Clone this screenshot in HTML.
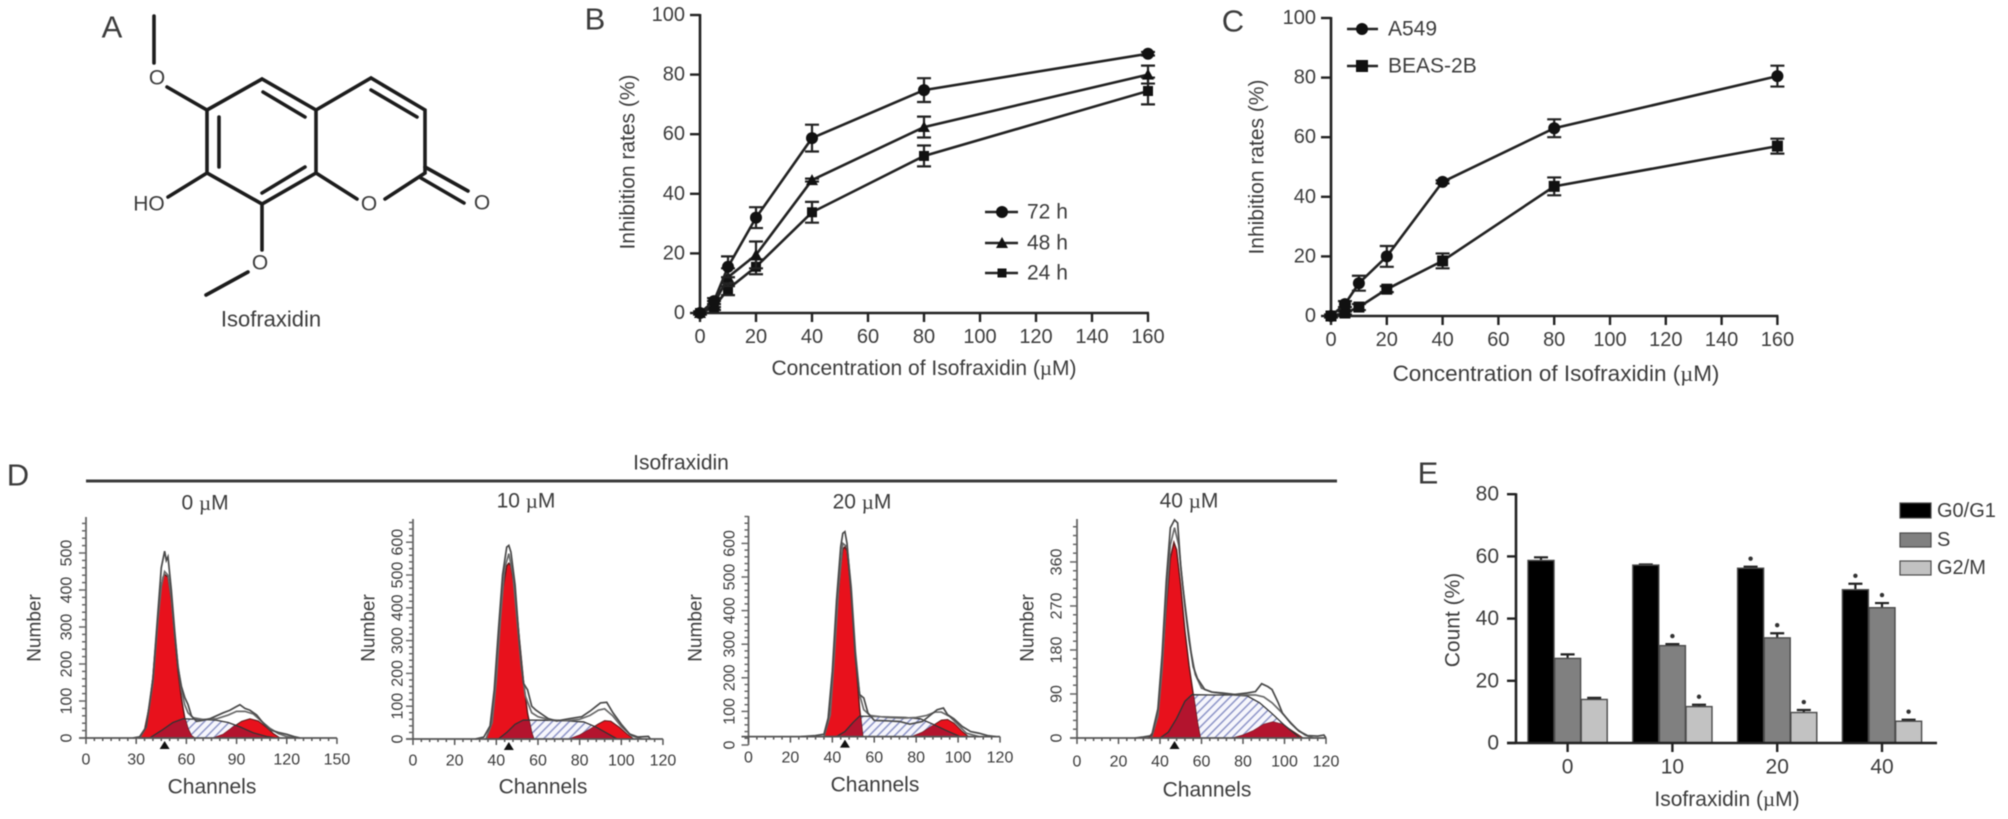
<!DOCTYPE html>
<html lang="en">
<head>
<meta charset="utf-8">
<title>Isofraxidin figure</title>
<style>
html,body{margin:0;padding:0;background:#fff;}
svg{display:block;filter:blur(0.55px);}
text{font-family:"Liberation Sans",sans-serif;fill:#3c3c3c;dominant-baseline:central;}
.mu{font-family:"Liberation Serif",serif;}
.bond{stroke:#1c1c1c;stroke-width:3.6;stroke-linecap:round;fill:none;}
</style>
</head>
<body>
<svg id="fig" xmlns="http://www.w3.org/2000/svg" width="2008" height="819" viewBox="0 0 2008 819">
<defs>
<pattern id="hatch" patternUnits="userSpaceOnUse" width="6" height="6" patternTransform="rotate(45)">
<rect width="6" height="6" fill="#f6f6fc"/>
<rect x="0" y="0" width="1.5" height="6" fill="#8f96c8"/>
</pattern>
</defs>
<rect width="2008" height="819" fill="#fff"/>

<text x="112" y="27" font-size="31" text-anchor="middle">A</text>
<text x="595" y="19" font-size="31" text-anchor="middle">B</text>
<text x="1233" y="21" font-size="31" text-anchor="middle">C</text>
<text x="18" y="475" font-size="31" text-anchor="middle">D</text>
<text x="1428" y="473" font-size="31" text-anchor="middle">E</text>

<g>
<g class="bond">
<path d="M154 16V63M167 87L207 110L262 79L316 110L316 173L262 204L207 173L207 110M316 110L371 78L425 110L425 173L385 199M316 173L357 199M207 173L168 197M262 204V250M248 272L206 295"/>
<path d="M219 117V167M263 92L305 117M262 193L305 167M371 90L417 117"/>
<path d="M425 167L468 191M421 178L464 203"/>
</g>
<text x="157" y="78" font-size="21" text-anchor="middle">O</text>
<text x="149" y="204" font-size="21" text-anchor="middle">HO</text>
<text x="369" y="204" font-size="21" text-anchor="middle">O</text>
<text x="482" y="203" font-size="21" text-anchor="middle">O</text>
<text x="260" y="263" font-size="21" text-anchor="middle">O</text>
<text x="271" y="319" font-size="22" text-anchor="middle">Isofraxidin</text>
</g>

<text x="681" y="463" font-size="21" text-anchor="middle">Isofraxidin</text>
<line x1="86" y1="481" x2="1337" y2="481" stroke="#3c3c3c" stroke-width="3"/>
<text x="205" y="503" font-size="21" text-anchor="middle">0 <tspan class="mu">µ</tspan>M</text>
<text x="526" y="501" font-size="21" text-anchor="middle">10 <tspan class="mu">µ</tspan>M</text>
<text x="862" y="502" font-size="21" text-anchor="middle">20 <tspan class="mu">µ</tspan>M</text>
<text x="1189" y="501" font-size="21" text-anchor="middle">40 <tspan class="mu">µ</tspan>M</text>
</svg>

<script>
// Panel B data
const concentrations = [0, 5, 10, 20, 40, 80, 160];
const rate72h = [0, 4, 15.5, 32, 58.7, 74.8, 87];
const err72h = [0.5, 1, 3.5, 3.5, 4.5, 4, 0.6];
const rate48h = [0, 3, 12, 19.5, 44.6, 62.4, 80];
const err48h = [0.5, 1, 3, 4.5, 0.5, 3.5, 3];
const rate24h = [0, 2, 8, 15.5, 33.8, 52.7, 74.5];
const err24h = [0.5, 1, 2, 2.5, 3.5, 3.5, 4.5];
// Panel C data
const rateA549 = [0, 4, 11, 20, 45, 63, 80.5];
const errA549 = [0.5, 1, 2.5, 3.5, 0.5, 3, 3.5];
const rateBeas = [0, 1, 3, 9, 18.5, 43.5, 57];
const errBeas = [0.5, 0.5, 1, 1, 2.5, 3, 2.5];
const lineXTicks = [0, 20, 40, 60, 80, 100, 120, 140, 160];
const lineYTicks = [0, 20, 40, 60, 80, 100];

// Panel D data: [channel, count] readings
const g1Dose0 = [[32,0],[35,22],[38,90],[40,165],[42,275],[44,385],[46,435],[47,442],[49,435],[51,375],[53,275],[55,180],[57,108],[59,55],[61,24],[63,6],[65,0]];
const sDose0 = [[38,0],[45,20],[52,42],[58,52],[70,50],[78,48],[85,42],[92,30],[100,14],[108,4],[114,0]];
const g2Dose0 = [[76,0],[82,10],[88,30],[93,45],[98,52],[103,46],[108,28],[112,12],[116,0]];
const traceDose0 = [[28,0],[32,3],[36,30],[40,160],[43,340],[45,460],[47,505],[48,480],[49,490],[51,400],[53,290],[55,190],[57,140],[59,110],[61,90],[63,60],[66,45],[70,48],[74,52],[78,60],[82,68],[86,75],[90,85],[92,90],[95,80],[98,75],[102,62],[106,40],[110,22],[115,15],[120,10],[125,3],[128,0]];
const fitDose0 = [[32,0],[36,30],[40,150],[43,320],[45,410],[47,450],[49,440],[51,380],[53,280],[55,195],[57,130],[59,90],[61,68],[64,55],[70,50],[78,52],[85,62],[90,72],[95,72],[100,65],[105,45],[110,26],[115,12],[120,4],[125,0]];

const g1Dose10 = [[35,0],[37,35],[39,140],[41,310],[43,450],[45,528],[46,536],[47,528],[49,450],[51,310],[53,180],[55,78],[57,18],[58,0]];
const sDose10 = [[41,0],[45,20],[49,45],[53,58],[65,57],[75,55],[82,52],[88,36],[93,18],[98,0]];
const g2Dose10 = [[75,0],[80,12],[85,30],[89,46],[92,56],[95,54],[99,36],[103,14],[106,0]];
const traceDose10 = [[30,0],[34,6],[37,40],[39,150],[41,330],[43,500],[45,585],[46,590],[47,570],[49,470],[51,300],[53,170],[55,150],[57,100],[59,88],[62,75],[65,62],[69,55],[75,62],[81,68],[85,85],[88,100],[90,110],[93,112],[96,80],[100,45],[104,15],[108,6],[113,8],[114,0]];
const fitDose10 = [[35,0],[38,50],[40,180],[42,370],[44,520],[46,565],[48,500],[50,360],[52,220],[54,130],[57,80],[60,68],[66,58],[74,56],[80,60],[85,72],[89,88],[92,92],[96,70],[100,38],[105,10],[110,0]];

const g1Dose20 = [[36,25],[38,65],[40,185],[42,385],[44,535],[45,582],[46,590],[47,578],[49,460],[51,265],[53,110],[54.5,25]];
const sDose20 = [[42,25],[46,40],[50,68],[53,86],[65,84],[75,82],[82,78],[88,62],[94,44],[101,25]];
const g2Dose20 = [[78,25],[83,38],[88,58],[92,74],[95,76],[98,65],[102,40],[105,25]];
const traceDose20 = [[25,25],[32,28],[36,32],[38,80],[40,220],[42,430],[44,590],[45,630],[46,635],[47,600],[49,450],[51,260],[53,150],[55,140],[57,95],[60,73],[66,72],[72,70],[77,62],[83,70],[87,90],[90,105],[93,110],[95,90],[98,78],[102,55],[106,40],[110,35],[114,28],[118,25]];
const fitDose20 = [[36,25],[39,90],[41,270],[43,470],[45,600],[47,590],[49,470],[51,280],[53,150],[55,105],[58,88],[66,82],[74,80],[80,82],[85,88],[89,98],[92,98],[96,85],[100,60],[104,35],[110,25]];

const g1Dose40 = [[34.4,0],[37,14],[39,58],[41,145],[43,265],[45,368],[46.7,400],[48,385],[50,310],[52,220],[54,148],[56,90],[58,32],[59.4,0]];
const sDose40 = [[40,0],[44,12],[48,40],[52,75],[55.4,88.6],[65,88],[75,88],[82,86],[88,72],[94,50],[100,26],[107.5,0]];
const g2Dose40 = [[75,0],[80,6],[85,15],[90,28],[94.5,33],[99,28],[104,14],[109,0]];
const traceDose40 = [[28,0],[32,2],[36,5],[39,60],[41,170],[43,320],[45,430],[47,446],[48.5,440],[50,350],[52,270],[54,200],[56,146],[58,122],[61.6,99],[65,94],[70,92],[76,89],[82,92],[86,95],[89,111],[92,105],[94,99],[97,72],[99,51],[103,30],[107,14],[111,5],[116,4],[119,6],[120,0]];
const fitDose40 = [[36,2],[39,45],[41,140],[43,280],[45,395],[47,430],[49,395],[51,310],[53,240],[55,175],[57,130],[60,102],[65,94],[72,90],[80,88],[86,88],[90,84],[94,72],[98,55],[102,36],[106,18],[110,6],[114,0]];

const channelTicks0 = [0, 30, 60, 90, 120, 150];
const channelTicks = [0, 20, 40, 60, 80, 100, 120];
const numberTicksA = [0, 100, 200, 300, 400, 500];
const numberTicksB = [0, 100, 200, 300, 400, 500, 600];
const numberTicksC = [0, 90, 180, 270, 360];

// Panel E data
const doses = ['0', '10', '20', '40'];
const phaseG0 = [58.7, 57.2, 56.2, 49.3];
const phaseS = [27.2, 31.3, 33.8, 43.5];
const phaseG2 = [14, 11.7, 9.8, 7];
const errG0 = [1, 0.2, 0.5, 1.9];
const errS = [1.3, 0.5, 1.5, 1.5];
const errG2 = [0.5, 0.6, 0.8, 0.5];
const sigG0 = [0, 0, 1, 1];
const sigS = [0, 1, 1, 1];
const sigG2 = [0, 1, 1, 1];
const countTicks = [0, 20, 40, 60, 80];

const svg = document.getElementById('fig');
const NS = 'http://www.w3.org/2000/svg';
function mk(tag, attrs, parent) {
  const e = document.createElementNS(NS, tag);
  for (const k in attrs) e.setAttribute(k, attrs[k]);
  (parent || svg).appendChild(e);
  return e;
}
function txt(str, x, y, size, anchor, parent, rot) {
  const t = mk('text', {x: x, y: y, 'font-size': size, 'text-anchor': anchor || 'middle'}, parent);
  t.textContent = str;
  if (rot) t.setAttribute('transform', 'rotate(-90 ' + x + ' ' + y + ')');
  return t;
}
const INK = '#222';

function marker(kind, cx, cy, r, parent) {
  let m;
  if (kind === 'circle') m = mk('circle', {cx: cx, cy: cy, r: r, fill: '#111'}, parent);
  else if (kind === 'square') m = mk('rect', {x: cx - r, y: cy - r, width: 2 * r, height: 2 * r, fill: '#111'}, parent);
  else m = mk('polygon', {points: (cx) + ',' + (cy - r - 1) + ' ' + (cx + r + 1) + ',' + (cy + r) + ' ' + (cx - r - 1) + ',' + (cy + r), fill: '#111'}, parent);
  return m;
}

function linePanel(name, box, seriesList) {
  const g = mk('g', {}, svg);
  
  
  const X = v => box.x0 + v * box.kx;
  const Y = v => box.y0 - v * box.ky;
  const yAxis = mk('line', {x1: X(0), x2: X(0), y1: Y(100) - 1, y2: Y(0) + 1, stroke: INK, 'stroke-width': 2.6}, g);
  
  
  const xAxis = mk('line', {x1: X(0) - 1, x2: X(160) + 1, y1: Y(0), y2: Y(0), stroke: INK, 'stroke-width': 2.6}, g);
  
  
  lineYTicks.forEach(v => {
    const tk = mk('line', {x1: X(0) - 10, x2: X(0), y1: Y(v), y2: Y(v), stroke: INK, 'stroke-width': 2.4}, g);
    
    
    const lb = txt(String(v), X(0) - 15, Y(v), 20, 'end', g);
    
    
  });
  lineXTicks.forEach(v => {
    const tk = mk('line', {x1: X(v), x2: X(v), y1: Y(0), y2: Y(0) + 9, stroke: INK, 'stroke-width': 2.4}, g);
    
    
    const lb = txt(String(v), X(v), Y(0) + 24, 20, 'middle', g);
    
    
  });
  seriesList.forEach(s => {
    const path = mk('polyline', {points: s.values.map((v, i) => X(concentrations[i]) + ',' + Y(v)).join(' '), fill: 'none', stroke: INK, 'stroke-width': 2.6}, g);
    
    
    s.values.forEach((v, i) => {
      const c = X(concentrations[i]);
      const e = s.errs[i];
      const bar = mk('path', {d: 'M' + c + ' ' + Y(v + e) + 'V' + Y(v - e) + 'M' + (c - 7) + ' ' + Y(v + e) + 'H' + (c + 7) + 'M' + (c - 7) + ' ' + Y(v - e) + 'H' + (c + 7), stroke: INK, 'stroke-width': 2.2, fill: 'none'}, g);
      
      
      const pt = marker(s.kind, c, Y(v), s.r, g);
      
      
    });
  });
}

linePanel('chart-b', {x0: 700, y0: 313, kx: 2.8, ky: 2.98}, [
  {id: '24h', kind: 'square', r: 5, values: rate24h, errs: err24h},
  {id: '48h', kind: 'triangle', r: 5, values: rate48h, errs: err48h},
  {id: '72h', kind: 'circle', r: 6, values: rate72h, errs: err72h}
]);
linePanel('chart-c', {x0: 1331, y0: 316, kx: 2.79, ky: 2.98}, [
  {id: 'beas-2b', kind: 'square', r: 5.5, values: rateBeas, errs: errBeas},
  {id: 'a549', kind: 'circle', r: 6, values: rateA549, errs: errA549}
]);

function axisTitles(name, yStr, yx, yy, xStr, xx, xy, xSize) {
  const a = txt(yStr, yx, yy, 21, 'middle', svg, true);
  
  
  const b = txt('', xx, xy, xSize || 21, 'middle', svg);
  
  
  const p1 = mk('tspan', {}, b); p1.textContent = xStr;
  const p2 = mk('tspan', {class: 'mu'}, b); p2.textContent = 'µ';
  const p3 = mk('tspan', {}, b); p3.textContent = 'M)';
}
axisTitles('chart-b', 'Inhibition rates (%)', 628, 162, 'Concentration of Isofraxidin (', 924, 368);
axisTitles('chart-c', 'Inhibition rates (%)', 1257, 167, 'Concentration of Isofraxidin (', 1556, 373, 22.5);

function legendRow(name, kind, r, x1, x2, cx, y, tx, label, size) {
  const g = mk('g', {}, svg);
  
  
  mk('line', {x1: x1, x2: x2, y1: y, y2: y, stroke: INK, 'stroke-width': 2.6}, g);
  marker(kind, cx, y, r, g);
  txt(label, tx, y, size, 'start', g);
}
legendRow('legend-entry-72h', 'circle', 6, 985, 1018, 1002, 212, 1027, '72 h', 21);
legendRow('legend-entry-48h', 'triangle', 5, 985, 1018, 1002, 243, 1027, '48 h', 21);
legendRow('legend-entry-24h', 'square', 4.5, 985, 1018, 1002, 273, 1027, '24 h', 21);
legendRow('legend-entry-a549', 'circle', 6, 1347, 1378, 1362, 29, 1388, 'A549', 21);
legendRow('legend-entry-beas-2b', 'square', 6, 1347, 1378, 1362, 66, 1388, 'BEAS-2B', 21);

function flowPanel(p) {
  const g = mk('g', {}, svg);
  
  
  const X = c => p.x0 + c * p.kx;
  const Y = v => p.y0 - v * p.ky;
  const base = p.base || 0;
  const pts = arr => arr.map(q => X(q[0]) + ',' + Y(q[1])).join(' ');
  const area = arr => X(arr[0][0]) + ',' + Y(base) + ' ' + pts(arr) + ' ' + X(arr[arr.length - 1][0]) + ',' + Y(base);
  const hatch = mk('polygon', {points: area(p.s), fill: 'url(#hatch)'}, g);
  
  
  const g1 = mk('polygon', {points: area(p.g1), fill: '#e8111c', stroke: '#5a1a1a', 'stroke-width': 1.4}, g);
  
  
  const g2 = mk('polygon', {points: area(p.g2), fill: '#e8111c', stroke: '#5a1a1a', 'stroke-width': 1}, g);
  
  
  const clip = mk('clipPath', {id: p.name + '-clip'}, g);
  mk('polygon', {points: area(p.s)}, clip);
  const o1 = mk('polygon', {points: area(p.g1), fill: '#b3142e', 'clip-path': 'url(#' + p.name + '-clip)'}, g);
  
  
  const o2 = mk('polygon', {points: area(p.g2), fill: '#b3142e', 'clip-path': 'url(#' + p.name + '-clip)'}, g);
  
  
  const sl = mk('polyline', {points: pts(p.s), fill: 'none', stroke: '#333', 'stroke-width': 1.3}, g);
  
  
  const fit = mk('polyline', {points: pts(p.fit), fill: 'none', stroke: '#6a6a6a', 'stroke-width': 1.7}, g);
  
  
  const tr = mk('polyline', {points: pts(p.trace), fill: 'none', stroke: '#4a4a4a', 'stroke-width': 1.7}, g);
  
  

  const ya = mk('line', {x1: p.x0, x2: p.x0, y1: p.top, y2: Y(0), stroke: '#666', 'stroke-width': 1.8}, g);
  
  
  const axisY = Y(base);
  const xa = mk('line', {x1: p.x0 - 7, x2: X(p.xTicks[p.xTicks.length - 1]), y1: axisY, y2: axisY, stroke: '#555', 'stroke-width': 1.8}, g);
  
  
  for (let v = 0; Y(v) >= p.top; v += p.yMinor) {
    const major = p.yTicks.indexOf(v) >= 0;
    const t = mk('line', {x1: p.x0 - (major ? 7 : 4), x2: p.x0, y1: Y(v), y2: Y(v), stroke: '#666', 'stroke-width': 1.5}, g);
    
    
  }
  const xMax = p.xTicks[p.xTicks.length - 1];
  for (let c = 0; c <= xMax; c += p.xMinor) {
    const major = p.xTicks.indexOf(c) >= 0;
    const t = mk('line', {x1: X(c), x2: X(c), y1: axisY + (major ? 6 : 3), y2: axisY, stroke: '#555', 'stroke-width': 1.5}, g);
    
    
  }
  p.yTicks.forEach(v => {
    const l = txt(String(v), p.yLabelX, Y(v), 16, 'middle', g, true);
    
    
  });
  p.xTicks.forEach(c => {
    const l = txt(String(c), X(c), p.xLabelY, 16, 'middle', g);
    
    
  });
  const yt = txt('Number', p.yTitleX, 628, 19, 'middle', g, true);
  
  
  const xt = txt('Channels', p.xTitleX, p.xTitleY, 21, 'middle', g);
  
  
  const peakC = X(p.mark);
  const tri = mk('polygon', {points: peakC + ',' + (axisY + 3) + ' ' + (peakC + 5) + ',' + (axisY + 11) + ' ' + (peakC - 5) + ',' + (axisY + 11), fill: '#111'}, g);
  
  
}

flowPanel({name: 'histogram-0um', x0: 86, y0: 738, kx: 1.673, ky: 0.37, top: 517, g1: g1Dose0, s: sDose0, g2: g2Dose0, trace: traceDose0, fit: fitDose0, xTicks: channelTicks0, yTicks: numberTicksA, xMinor: 5, yMinor: 20, yLabelX: 67, xLabelY: 760, yTitleX: 35, xTitleX: 212, xTitleY: 787, mark: 47});
flowPanel({name: 'histogram-10um', x0: 413, y0: 739, kx: 2.083, ky: 0.328, top: 519, g1: g1Dose10, s: sDose10, g2: g2Dose10, trace: traceDose10, fit: fitDose10, xTicks: channelTicks, yTicks: numberTicksB, xMinor: 4, yMinor: 20, yLabelX: 398, xLabelY: 761, yTitleX: 369, xTitleX: 543, xTitleY: 787, mark: 46});
flowPanel({name: 'histogram-20um', x0: 748.5, y0: 745, kx: 2.096, ky: 0.336, base: 25, top: 516, g1: g1Dose20, s: sDose20, g2: g2Dose20, trace: traceDose20, fit: fitDose20, xTicks: channelTicks, yTicks: numberTicksB, xMinor: 4, yMinor: 20, yLabelX: 730, xLabelY: 758, yTitleX: 696, xTitleX: 875, xTitleY: 785, mark: 46});
flowPanel({name: 'histogram-40um', x0: 1077, y0: 738, kx: 2.075, ky: 0.489, top: 519, g1: g1Dose40, s: sDose40, g2: g2Dose40, trace: traceDose40, fit: fitDose40, xTicks: channelTicks, yTicks: numberTicksC, xMinor: 4, yMinor: 18, yLabelX: 1057, xLabelY: 762, yTitleX: 1028, xTitleX: 1207, xTitleY: 790, mark: 47});

(function barPanel() {
  const g = mk('g', {}, svg);
  
  
  const x0 = 1516, y0 = 743, ky = 3.11, firstGroup = 1567.6, groupStep = 104.8, barW = 26, barStep = 26.6;
  const Y = v => y0 - v * ky;
  const GX = i => firstGroup + i * groupStep;
  const phases = [
    {id: 'g0-g1', vals: phaseG0, errs: errG0, sig: sigG0, fill: '#000', off: -1},
    {id: 's', vals: phaseS, errs: errS, sig: sigS, fill: '#808080', off: 0},
    {id: 'g2-m', vals: phaseG2, errs: errG2, sig: sigG2, fill: '#c2c2c2', off: 1}
  ];
  phases.forEach(ph => {
    ph.vals.forEach((v, i) => {
      const cx = GX(i) + ph.off * barStep;
      const e = ph.errs[i];
      const err = mk('path', {d: 'M' + cx + ' ' + Y(v) + 'V' + Y(v + e) + 'M' + (cx - 7) + ' ' + Y(v + e) + 'H' + (cx + 7), stroke: '#222', 'stroke-width': 2.2, fill: 'none'}, g);
      
      
      const b = mk('rect', {x: cx - barW / 2, y: Y(v), width: barW, height: v * ky, fill: ph.fill, stroke: '#4a4a4a', 'stroke-width': 1.4}, g);
      
      
      if (ph.sig[i]) {
        const s = mk('circle', {cx: cx, cy: Y(v + e) - 8, r: 2.2, fill: '#333'}, g);
        
        
      }
    });
  });
  const ya = mk('line', {x1: x0, x2: x0, y1: Y(80) - 1, y2: y0, stroke: INK, 'stroke-width': 2.6}, g);
  
  
  const xa = mk('line', {x1: x0 - 9, x2: 1937, y1: y0, y2: y0, stroke: INK, 'stroke-width': 2.6}, g);
  
  
  countTicks.forEach(v => {
    const t = mk('line', {x1: x0 - 9, x2: x0, y1: Y(v), y2: Y(v), stroke: INK, 'stroke-width': 2.4}, g);
    
    
    const l = txt(String(v), x0 - 17, Y(v), 21, 'end', g);
    
    
  });
  doses.forEach((d, i) => {
    const t = mk('line', {x1: GX(i), x2: GX(i), y1: y0, y2: y0 + 9, stroke: INK, 'stroke-width': 2.4}, g);
    
    
    const l = txt(d, GX(i), 767, 21, 'middle', g);
    
    
  });
})();
axisTitles('chart-e', 'Count (%)', 1453, 620, 'Isofraxidin (', 1727, 799);

function barLegend(name, fill, y1, h, ty, label) {
  const g = mk('g', {}, svg);
  
  
  mk('rect', {x: 1900, y: y1, width: 31, height: h, fill: fill, stroke: '#4a4a4a', 'stroke-width': 1.2}, g);
  txt(label, 1937, ty, 20, 'start', g);
}
barLegend('legend-entry-g0-g1', '#000', 503, 15, 511, 'G0/G1');
barLegend('legend-entry-s', '#808080', 533, 14, 540, 'S');
barLegend('legend-entry-g2-m', '#c2c2c2', 561, 14, 568, 'G2/M');
</script>
</body>
</html>
